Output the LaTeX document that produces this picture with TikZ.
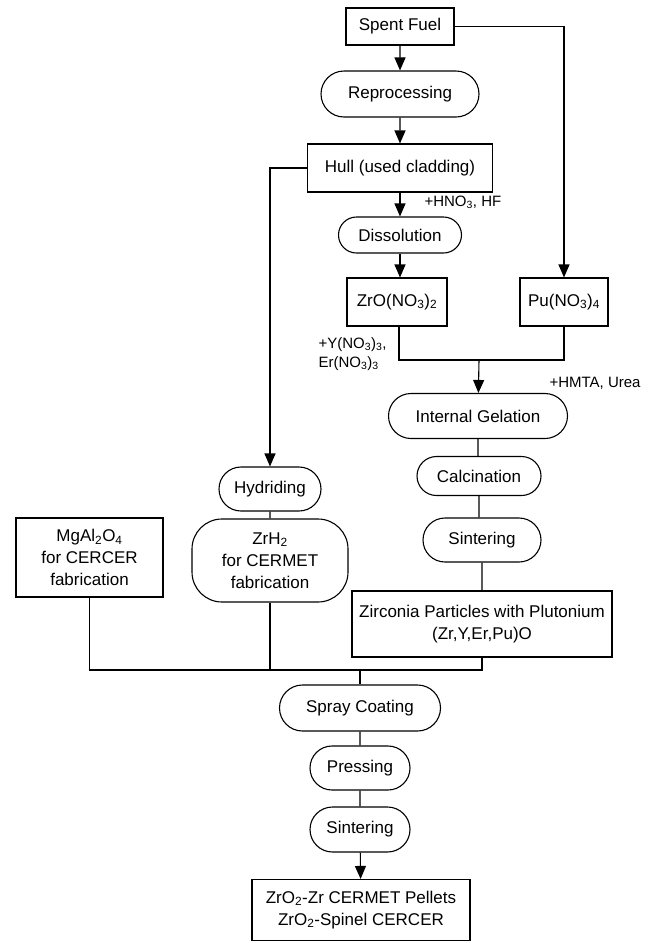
\documentclass[tikz,border=0pt]{standalone}
\usepackage{fontspec}
\setmainfont{Liberation Sans}
\usetikzlibrary{arrows.meta,shapes.misc}

\begin{document}
\begin{tikzpicture}[x=1pt,y=-1pt,>={Triangle[length=13pt,width=11pt]},line width=1.1pt,
    font=\fontsize{17}{22}\selectfont,
    boxstep/.style={draw,rectangle,inner sep=2pt,align=center},
    roundstep/.style={draw,rounded rectangle,inner sep=2pt,align=center},
    note/.style={anchor=west,inner sep=0pt,align=left,font=\fontsize{15}{19}\selectfont}]
    \useasboundingbox (0,0) rectangle (651,943);
    % main line
    \node[boxstep,minimum width=108,minimum height=37] (fuel) at (400,26.5) {Spent Fuel};
    \node[roundstep,minimum width=162,minimum height=46] (repro) at (400,94) {Reprocessing};
    \node[boxstep,minimum width=185,minimum height=48] (hull) at (400,168) {Hull (used cladding)};
    \node[roundstep,minimum width=127,minimum height=36] (diss) at (400,235) {Dissolution};
    \node[boxstep,minimum width=100,minimum height=48] (zro) at (397,302) {ZrO(NO\textsubscript{3})\textsubscript{2}};
    \node[boxstep,minimum width=88,minimum height=48] (pu) at (564,302) {Pu(NO\textsubscript{3})\textsubscript{4}};
    \node[roundstep,minimum width=183,minimum height=45] (gel) at (478,416) {Internal Gelation};
    \node[roundstep,minimum width=128,minimum height=39] (calc) at (479,476) {Calcination};
    \node[roundstep,minimum width=122,minimum height=44] (sint) at (482,540) {Sintering};
    \node[boxstep,minimum width=260,minimum height=66] (zirc) at (482,624) {Zirconia Particles with Plutonium\\(Zr,Y,Er,Pu)O};
    \node[roundstep,minimum width=106,minimum height=44] (hyd) at (270,489) {Hydriding};
    \node[draw,rectangle,rounded corners=30pt,inner sep=2pt,align=center,minimum width=156,minimum height=83] (zrh) at (270,560.5) {ZrH\textsubscript{2}\\for CERMET\\fabrication};
    \node[boxstep,minimum width=147,minimum height=79] (mgal) at (89.5,557.5) {MgAl\textsubscript{2}O\textsubscript{4}\\for CERCER\\fabrication};
    \node[roundstep,minimum width=165,minimum height=46] (spray) at (360,708) {Spray Coating};
    \node[roundstep,minimum width=104,minimum height=44] (press) at (360,768) {Pressing};
    \node[roundstep,minimum width=104,minimum height=45] (sint2) at (360,829.5) {Sintering};
    \node[boxstep,minimum width=218,minimum height=61] (pellet) at (361,910) {ZrO\textsubscript{2}-Zr CERMET Pellets\\ZrO\textsubscript{2}-Spinel CERCER};
    % additives
    \node[note] (acid) at (424,202) {+HNO\textsubscript{3}, HF};
    \node[note] (dopant) at (318,354) {+Y(NO\textsubscript{3})\textsubscript{3},\\Er(NO\textsubscript{3})\textsubscript{3}};
    \node[note] (gelant) at (549,383) {+HMTA, Urea};
    \coordinate (mix) at (479,360);
    \coordinate (merge) at (360,670);
    % connectors
    \draw[->] (fuel) -- (repro);
    \draw[->] (repro) -- (hull);
    \draw[->] (hull) -- (diss);
    \draw[->] (diss.south) -- (diss.south |- zro.north);
    \draw[->] (fuel.east) -| (pu.north);
    \draw (zro.south -| 399,0) |- (mix) -| (pu.south);
    \draw[->] (mix) -- (gel);
    \draw (gel) -- (calc.north -| gel.south);
    \draw (calc) -- (sint.north -| calc.south);
    \draw (sint) -- (zirc);
    \draw[->] (hull.west) -| (hyd.north);
    \draw (hyd) -- (zrh);
    \draw (mgal.south) |- (merge) -| (zirc.south);
    \draw (zrh.south) -- (zrh.south |- merge);
    \draw (merge) -- (spray);
    \draw (spray) -- (press);
    \draw (press) -- (sint2);
    \draw[->] (sint2) -- (pellet);
\end{tikzpicture}
\end{document}
